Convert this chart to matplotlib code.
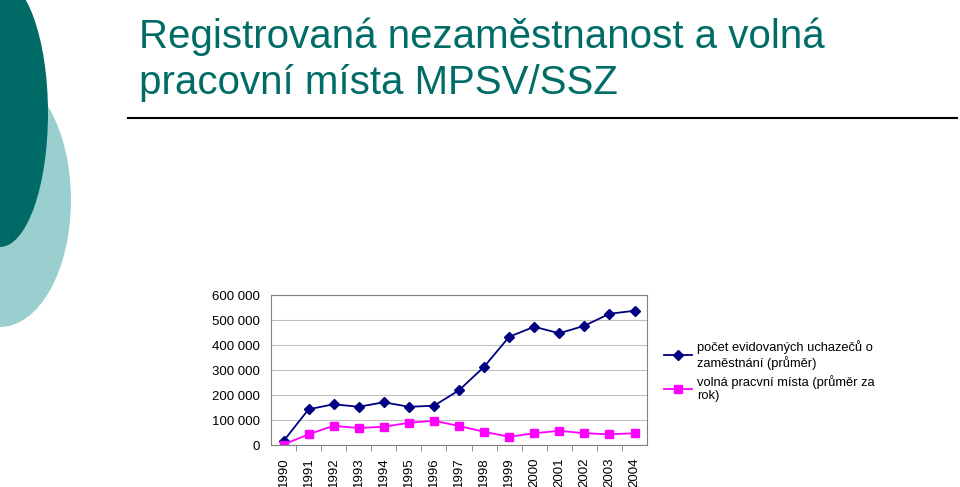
import matplotlib.pyplot as plt
from matplotlib.patches import Ellipse

plt.rcParams['font.family'] = ['Liberation Sans', 'DejaVu Sans']

# data
roky = ['1990', '1991', '1992', '1993', '1994', '1995', '1996', '1997',
        '1998', '1999', '2000', '2001', '2002', '2003', '2004']
uchazeci = [16000, 143000, 163000, 153000, 171000, 153000, 157000, 219000,
            313000, 433000, 473000, 447000, 477000, 525000, 537000]
volna_mista = [2000, 43000, 77000, 68000, 73000, 89000, 97000, 76000,
               53000, 33000, 47000, 57000, 47000, 43000, 47000]
y_ticks = [0, 100000, 200000, 300000, 400000, 500000, 600000]
y_labels = ['0', '100 000', '200 000', '300 000', '400 000', '500 000', '600 000']

fig = plt.figure(figsize=(9.6, 4.87), dpi=100)

# dekoracija levo (elipse) + naslov
bg = fig.add_axes([0, 0, 1, 1])
bg.set_xlim(0, 960)
bg.set_ylim(487, 0)
bg.axis('off')
bg.add_patch(Ellipse((0, 200), 142, 254, color='#9ACFD0', lw=0))
bg.add_patch(Ellipse((0, 113), 96, 268, color='#006B66', lw=0))
bg.plot([128, 957], [118, 118], color='black', lw=1.5)
bg.text(139, 48, 'Registrovaná nezaměstnanost a volná',
        color='#006C66', fontsize=29, va='baseline', ha='left')
bg.text(139, 94, 'pracovní místa MPSV/SSZ',
        color='#006C66', fontsize=29, va='baseline', ha='left')

ax = fig.add_axes([0.2823, 0.0862, 0.3917, 0.308])
x = list(range(len(roky)))
ax.plot(x, uchazeci, color='#000080', marker='D', markersize=5, lw=1.3,
        label='počet evidovaných uchazečů o\nzaměstnání (průměr)')
ax.plot(x, volna_mista, color='#FF00FF', marker='s', markersize=6, lw=1.3,
        label='volná pracvní místa (průměr za\nrok)')

ax.set_xlim(-0.5, len(roky) - 0.5)
ax.set_ylim(0, 600000)
ax.set_yticks(y_ticks)
ax.set_yticklabels(y_labels, fontsize=9.5)
ax.tick_params(axis='y', length=0, pad=8)
ax.set_xticks(x)
ax.set_xticklabels(roky, rotation=90, fontsize=9.5)
ax.tick_params(axis='x', which='major', length=0, pad=9)
ax.set_xticks([i + 0.5 for i in x[:-1]], minor=True)
ax.tick_params(axis='x', which='minor', length=4, color='#808080')
ax.grid(axis='y', color='#C0C0C0', lw=0.8)
ax.set_axisbelow(True)
for s in ax.spines.values():
    s.set_color('#808080')

ax.legend(loc='upper left', bbox_to_anchor=(0.686, 0.312), bbox_transform=fig.transFigure,
          frameon=False, fontsize=9.3, handlelength=2.2, handletextpad=0.4,
          labelspacing=0.35, borderaxespad=0)

fig.savefig('out.png', dpi=100)
